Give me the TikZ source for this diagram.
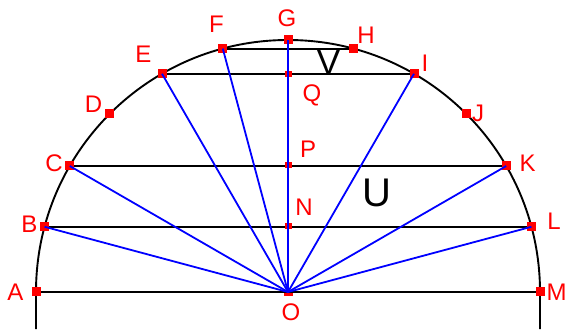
\documentclass[tikz,border=0pt]{standalone}
\usepackage{fontspec}
\setmainfont{Liberation Sans}
\tikzset{
  x=1pt,y=1pt,
  arcline/.style={line width=1.9pt,black},
  ray/.style={line width=1.8pt,blue},
  bigmark/.style={fill=red,draw=none,minimum size=9pt,inner sep=0pt,rectangle},
  smallmark/.style={fill=red,draw=none,minimum width=7pt,minimum height=6pt,inner sep=0pt,rectangle},
  lab/.style={text=red,inner sep=0pt,font=\fontsize{24}{24}\selectfont,text height=17.2pt,text depth=0pt,anchor=center},
  biglab/.style={text=black,inner sep=0pt,text depth=0pt,anchor=center}
}
\begin{document}
\begin{tikzpicture}
\path[use as bounding box] (0,0) rectangle (567,329);
\coordinate (O) at (288,37);
\foreach \n/\a in {A/180,B/165,C/150,D/135,E/120,F/105,G/90,H/75,I/60,J/45,K/30,L/15,M/0}{
  \coordinate (\n) at ({288+252*cos(\a)},{37+252*sin(\a)});
}
\coordinate (A0) at (36,0);
\coordinate (M0) at (540,0);
\coordinate (N) at (288,103);
\coordinate (P) at (288,164);
\coordinate (Q) at (288,255);
% O marker (mostly hidden)
\node[fill=red,minimum width=9pt,minimum height=4pt,inner sep=0pt] (Om) at (288,35) {};
% arc and horizontal chords
\draw[arcline] (A0) -- (A) arc[start angle=180,end angle=0,radius=252] -- (M0);
\draw[arcline] (A) -- (M);
\draw[arcline] (B) -- (L);
\draw[arcline] (C) -- (K);
\draw[arcline] (E) -- (I);
\draw[arcline] (F) -- (H);
% markers
\foreach \n in {A,B,C,D,E,F,G,H,I,J,K,L,M}{
  \node[bigmark] (m\n) at (\n) {};
}
\foreach \n in {N,P,Q}{
  \node[smallmark] (m\n) at (\n) {};
}
% rays
\foreach \n in {B,C,E,F,G,I,K,L}{
  \draw[ray] (O) -- (\n);
}
% labels
\node[lab] (lA) at (15.5,37.5) {A};
\node[lab] (lB) at (29.5,105) {B};
\node[lab] (lC) at (54,166.5) {C};
\node[lab] (lD) at (93.5,225) {D};
\node[lab] (lE) at (143.5,275) {E};
\node[lab] (lF) at (216.5,305) {F};
\node[lab] (lG) at (287,311) {G};
\node[lab] (lH) at (366,294) {H};
\node[lab] (lI) at (425,266) {I};
\node[lab] (lJ) at (478,216) {J};
\node[lab] (lK) at (527.5,166.5) {K};
\node[lab] (lL) at (554,108) {L};
\node[lab] (lM) at (556.5,37) {M};
\node[lab] (lO) at (291,17.5) {O};
\node[lab] (lN) at (304,122) {N};
\node[lab] (lP) at (308,180.5) {P};
\node[lab] (lQ) at (312,236) {Q};
\node[biglab,font=\fontsize{40}{40}\selectfont,text height=28.6pt] (U) at (376.5,137) {U};
\node[biglab,font=\fontsize{35}{35}\selectfont,text height=25pt] (V) at (328.5,266.5) {V};
\end{tikzpicture}
\end{document}
